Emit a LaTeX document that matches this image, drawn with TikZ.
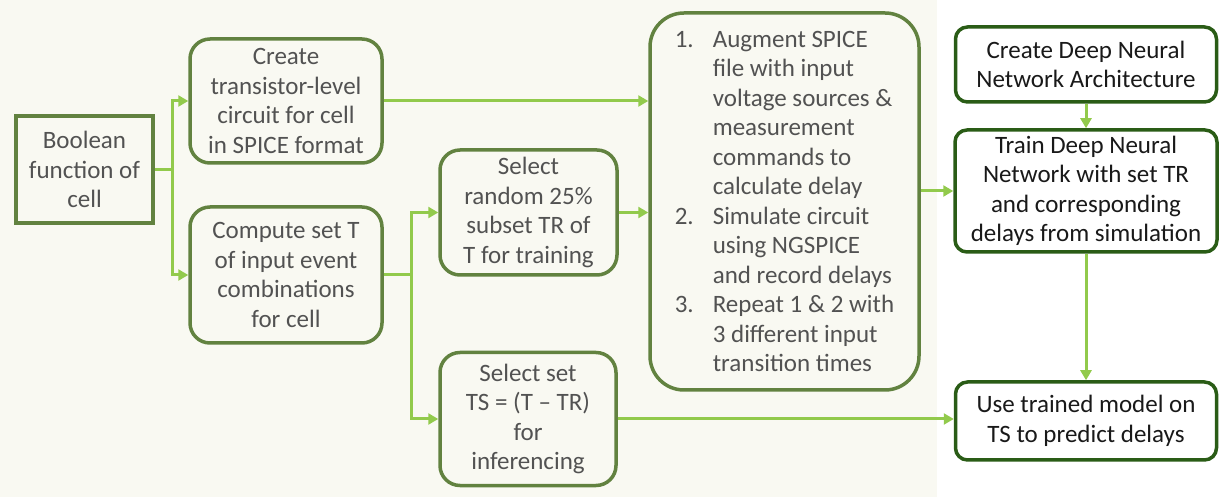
\documentclass[tikz,border=0pt]{standalone}
\usepackage{fontspec}
\setmainfont{Carlito}
\usetikzlibrary{arrows.meta,calc}
\definecolor{bgbeige}{RGB}{249,249,242}
\definecolor{lgreen}{RGB}{98,130,64}
\definecolor{dgreen}{RGB}{42,92,22}
\definecolor{ltext}{RGB}{82,82,82}
\definecolor{dtext}{RGB}{25,25,25}
\definecolor{agreen}{RGB}{146,202,76}
\begin{document}
\begin{tikzpicture}[x=0.5pt,y=-0.5pt,
  basefont/.style={font=\fontsize{12.5}{14.75}\selectfont},
  lbox/.style={basefont, draw=lgreen, line width=1.75pt, rounded corners=10pt, align=center, text=ltext, inner sep=0pt},
  sqbox/.style={lbox, rounded corners=0pt},
  bigbox/.style={lbox, rounded corners=17pt, align=left},
  rbox/.style={basefont, draw=dgreen, fill=white, line width=1.75pt, rounded corners=6pt, align=center, text=dtext, inner sep=0pt},
  arr/.style={draw=agreen, line width=1.5pt, -{Triangle[length=5pt,width=5.5pt]}},
  conn/.style={draw=agreen, line width=1.5pt}]
\useasboundingbox (0,0) rectangle (1222,497);
\fill[bgbeige] (0,0) rectangle (937,497);

\node[sqbox, minimum width=68.5pt, minimum height=53.5pt] (bool) at (84.5,169.5) {Boolean\\function of\\cell};
\node[lbox, minimum width=96pt, minimum height=62pt] (create) at (286,101) {Create\\transistor-level\\circuit for cell\\in SPICE format};
\node[lbox, minimum width=96pt, minimum height=68pt] (compute) at (286,275) {Compute set T\\of input event\\combinations\\for cell};
\node[lbox, minimum width=88.5pt, minimum height=62.5pt] (random) at (528.5,212.5) {Select\\random 25\%\\subset TR of\\T for training};
\node[lbox, minimum width=88pt, minimum height=66.5pt] (ts) at (528,419) {Select set\\TS = (T -- TR)\\for\\inferencing};
\node[bigbox, minimum width=134.5pt, minimum height=188.5pt] (big) at (784.5,201.5) {%
\makebox[19pt][l]{1.}Augment SPICE\\
\hspace*{19pt}file with input\\
\hspace*{19pt}voltage sources \&\\
\hspace*{19pt}measurement\\
\hspace*{19pt}commands to\\
\hspace*{19pt}calculate delay\\
\makebox[19pt][l]{2.}Simulate circuit\\
\hspace*{19pt}using NGSPICE\\
\hspace*{19pt}and record delays\\
\makebox[19pt][l]{3.}Repeat 1 \& 2 with\\
\hspace*{19pt}3 different input\\
\hspace*{19pt}transition times};
\node[rbox, minimum width=130.5pt, minimum height=37.5pt] (dnn) at (1086,64.5) {Create Deep Neural\\Network Architecture};
\node[rbox, minimum width=131pt, minimum height=61pt] (train) at (1086,191) {Train Deep Neural\\Network with set TR\\and corresponding\\delays from simulation};
\node[rbox, minimum width=130.5pt, minimum height=39pt] (use) at (1086,421) {Use trained model on\\TS to predict delays};

\coordinate (bus1) at (172,169.5);
\coordinate (bus2) at (411,275);
\draw[conn] (bool.east) -- (bus1);
\draw[arr] (bus1) |- (create.west);
\draw[arr] (bus1) |- (compute.west);
\draw[conn] (compute.east) -- (bus2);
\draw[arr] (bus2) |- (random.west);
\draw[arr] (bus2) |- (ts.west);
\draw[arr] (create.east) -- (create.east -| big.west);
\draw[arr] (random.east) -- (random.east -| big.west);
\draw[arr] (big.east |- train.west) -- (train.west);
\draw[arr] (dnn.south) -- (train.north);
\draw[arr] (train.south) -- (use.north);
\draw[arr] (ts.east) -- (ts.east -| use.west);
\end{tikzpicture}
\end{document}
